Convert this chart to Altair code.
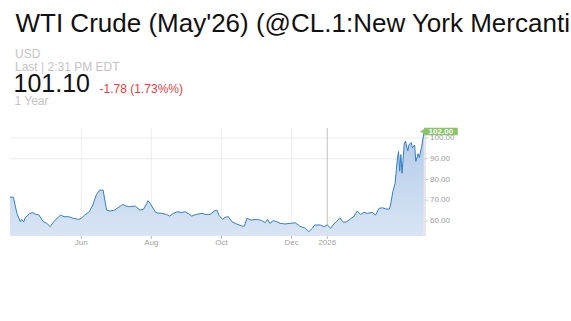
import altair as alt
import pandas as pd

# ---------------- data ----------------
dates = [
    "2025-03-31", "2025-04-03", "2025-04-06", "2025-04-09", "2025-04-10", "2025-04-12",
    "2025-04-13", "2025-04-17", "2025-04-20", "2025-04-22", "2025-04-25", "2025-04-29",
    "2025-05-02", "2025-05-05", "2025-05-08", "2025-05-11", "2025-05-14", "2025-05-17",
    "2025-05-21", "2025-05-25", "2025-05-30", "2025-06-01", "2025-06-04", "2025-06-08",
    "2025-06-11", "2025-06-14", "2025-06-17", "2025-06-20", "2025-06-23", "2025-06-26",
    "2025-06-30", "2025-07-05", "2025-07-07", "2025-07-10", "2025-07-13", "2025-07-18",
    "2025-07-22", "2025-07-25", "2025-07-28", "2025-07-29", "2025-07-31", "2025-08-03",
    "2025-08-05", "2025-08-10", "2025-08-14", "2025-08-17", "2025-08-20", "2025-08-24",
    "2025-08-27", "2025-08-30", "2025-09-02", "2025-09-05", "2025-09-09", "2025-09-14",
    "2025-09-17", "2025-09-21", "2025-09-25", "2025-09-27", "2025-09-29", "2025-10-02",
    "2025-10-04", "2025-10-07", "2025-10-10", "2025-10-14", "2025-10-19", "2025-10-21",
    "2025-10-23", "2025-10-27", "2025-11-01", "2025-11-05", "2025-11-08", "2025-11-10",
    "2025-11-12", "2025-11-15", "2025-11-18", "2025-11-21", "2025-11-25", "2025-11-30",
    "2025-12-04", "2025-12-08", "2025-12-13", "2025-12-16", "2025-12-19", "2025-12-21",
    "2025-12-26", "2025-12-29", "2026-01-01", "2026-01-04", "2026-01-06", "2026-01-09",
    "2026-01-12", "2026-01-15", "2026-01-18", "2026-01-21", "2026-01-24", "2026-01-27",
    "2026-01-30", "2026-02-02", "2026-02-05", "2026-02-09", "2026-02-12", "2026-02-15",
    "2026-02-18", "2026-02-21", "2026-02-24", "2026-02-25", "2026-02-27", "2026-03-01",
    "2026-03-03", "2026-03-04", "2026-03-05", "2026-03-06", "2026-03-07", "2026-03-09",
    "2026-03-10", "2026-03-12", "2026-03-13", "2026-03-15", "2026-03-16", "2026-03-18",
    "2026-03-19", "2026-03-21", "2026-03-22", "2026-03-24", "2026-03-25", "2026-03-26",
]
prices = [
    71.5, 71.5, 63.7, 59.7, 60.8, 59.7,
    61.3, 63.7, 64.0, 63.3, 63.0, 59.7,
    58.9, 57.3, 59.7, 61.3, 62.9, 62.1,
    62.1, 61.3, 60.8, 61.3, 62.9, 64.5,
    67.7, 72.5, 74.9, 74.9, 65.3, 64.8,
    65.3, 67.2, 68.0, 67.2, 66.9, 67.2,
    65.3, 65.6, 68.5, 69.8, 68.5, 65.6,
    64.0, 63.7, 63.2, 62.4, 63.7, 64.5,
    64.0, 64.5, 63.7, 62.4, 63.2, 63.7,
    63.2, 63.2, 64.9, 65.3, 62.6, 60.8,
    61.8, 62.1, 59.7, 58.6, 57.6, 57.6,
    61.3, 60.5, 60.8, 60.2, 59.2, 60.8,
    58.9, 60.2, 59.7, 58.9, 58.6, 58.9,
    59.2, 57.6, 56.5, 54.9, 56.5, 58.1,
    58.1, 57.3, 58.1, 56.5, 58.1, 59.7,
    61.6, 59.4, 59.7, 61.0, 62.1, 64.8,
    63.2, 64.2, 63.7, 64.2, 62.9, 66.1,
    66.4, 65.8, 65.8, 67.7, 74.1, 78.2,
    90.2, 93.5, 84.0, 92.0, 83.0, 97.4,
    98.5, 93.8, 96.6, 97.8, 95.3, 96.6,
    88.7, 92.4, 90.6, 95.5, 99.0, 102.3,
]
tick_dates = ["2025-06-01", "2025-08-01", "2025-10-01", "2025-12-01"]
tick_labels = ["Jun", "Aug", "Oct", "Dec"]
year_date = "2026-01-01"
year_label = "2026"
y_ticks = [60, 70, 80, 90, 100]
grid_levels = [90, 100]
x_start, x_end = "2025-03-31", "2026-03-27"
y_min, y_max = 52.8, 104.8
tag_value = 102.00

title_text = "WTI Crude (May'26) (@CL.1:New York Mercantile Exchange)"
currency = "USD"
last_text = "Last | 2:31 PM EDT"
last_price = "101.10"
change_text = "-1.78 (1.73%%)"
period_text = "1 Year"

# ---------------- frames ----------------
def ms(s):
    return int(pd.Timestamp(s).value // 10**6)

df = pd.DataFrame({"t": [ms(d) for d in dates], "price": prices})
ticks_df = pd.DataFrame({"t": [ms(d) for d in tick_dates + [year_date]],
                         "label": tick_labels + [year_label]})
month_df = pd.DataFrame({"t": [ms(d) for d in tick_dates]})
year_df = pd.DataFrame({"t": [ms(year_date)]})
grid_df = pd.DataFrame({"level": grid_levels})
yt_df = pd.DataFrame({"v": y_ticks, "label": [f"{v:.2f}" for v in y_ticks]})
tag_df = pd.DataFrame({"t": [ms(dates[-1])], "value": [tag_value],
                       "label": [f"{tag_value:.2f}"]})
one = pd.DataFrame({"k": [0]})

W, H = 415, 108
FONT = "Liberation Sans"
TAG_GREEN = "#8dc46b"

xs = alt.Scale(type="utc", domain=[ms(x_start), ms(x_end)])
ys = alt.Scale(domain=[y_min, y_max], zero=False, nice=False)


def X():
    return alt.X("t:T", scale=xs, axis=None)


def Y(field):
    return alt.Y(field, scale=ys, axis=None)


base = alt.Chart(df)

area_fill = {
    "gradient": "linear", "x1": 1, "x2": 1, "y1": 0, "y2": 1,
    "stops": [{"offset": 0, "color": "#b3cbe9"},
              {"offset": 0.6, "color": "#e2ebf7"},
              {"offset": 1, "color": "#fbfcfe"}],
}

area = base.mark_area(clip=True, color=area_fill).encode(x=X(), y=Y("price:Q"))

line = base.mark_line(color="#3580c3", strokeWidth=1, clip=True).encode(
    x=X(), y=Y("price:Q"),
)

hgrid = alt.Chart(grid_df).mark_rule(color="#ebebeb", strokeWidth=1).encode(y=Y("level:Q"))

vgrid = alt.Chart(month_df).mark_rule(color="#eeeeee", strokeWidth=1).encode(x=X())
ygrid = alt.Chart(year_df).mark_rule(color="#c4c4c4", strokeWidth=1).encode(x=X())

xticks = alt.Chart(ticks_df).mark_rule(color="#bdbdbd", strokeWidth=1).encode(
    x=X(), y=alt.value(H), y2=alt.value(H + 3)
)

xlabels = alt.Chart(ticks_df).mark_text(
    font=FONT, fontSize=8, color="#a0a0a0", baseline="middle", align="center"
).encode(x=X(), y=alt.value(H + 7), text="label:N")

# right-hand value axis
y_domain = alt.Chart(one).mark_rule(color="#cfcfcf", strokeWidth=1).encode(
    x=alt.value(W), y=alt.value(0), y2=alt.value(H)
)
y_tickmarks = alt.Chart(yt_df).mark_rule(color="#cfcfcf", strokeWidth=1).encode(
    y=Y("v:Q"), x=alt.value(W), x2=alt.value(W + 3)
)
y_labels = alt.Chart(yt_df).mark_text(
    font=FONT, fontSize=8, color="#9a9a9a", align="left", baseline="middle"
).encode(y=Y("v:Q"), x=alt.value(W + 5), text="label:N")

tag_box = alt.Chart(tag_df).mark_rect(
    color=TAG_GREEN, xOffset=0, x2Offset=34, yOffset=-6, y2Offset=1.5,
    cornerRadius=1,
).encode(x=X(), x2="t:T", y=Y("value:Q"), y2="value:Q")

tag_arrow = alt.Chart(tag_df).mark_point(
    shape="triangle-left", filled=True, color=TAG_GREEN, opacity=1, size=28,
    xOffset=-1.5, yOffset=-2.3,
).encode(x=X(), y=Y("value:Q"))

tag_text = alt.Chart(tag_df).mark_text(
    font=FONT, fontSize=8, fontWeight="bold", color="white",
    align="center", baseline="middle", xOffset=17, yOffset=-2.2,
).encode(x=X(), y=Y("value:Q"), text="label:N")


def header(text, x, y, size, color):
    d = pd.DataFrame({"txt": [text]})
    return alt.Chart(d).mark_text(
        font=FONT, fontSize=size, color=color,
        align="left", baseline="alphabetic",
    ).encode(x=alt.value(x), y=alt.value(y), text="txt:N")


texts = [
    header(title_text, 5.5, -96, 26, "#111111"),
    header(currency, 5, -70.5, 12, "#c4c4c4"),
    header(last_text, 5, -57.5, 12, "#c4c4c4"),
    header(last_price, 3.5, -36, 25, "#111111"),
    header(change_text, 89.6, -35.3, 12, "#e8403a"),
    header(period_text, 4.5, -23, 12, "#c4c4c4"),
]

chart = alt.layer(
    hgrid, vgrid, ygrid, area, line, xticks, xlabels,
    y_domain, y_tickmarks, y_labels,
    tag_box, tag_arrow, tag_text, *texts
).properties(
    width=W, height=H,
    autosize=alt.AutoSizeParams(type="none"),
    padding={"left": 10, "top": 128, "right": 146, "bottom": 85},
    background="white",
).configure_view(stroke=None)

chart.save("out.html", embed_options={"renderer": "svg", "actions": False})
